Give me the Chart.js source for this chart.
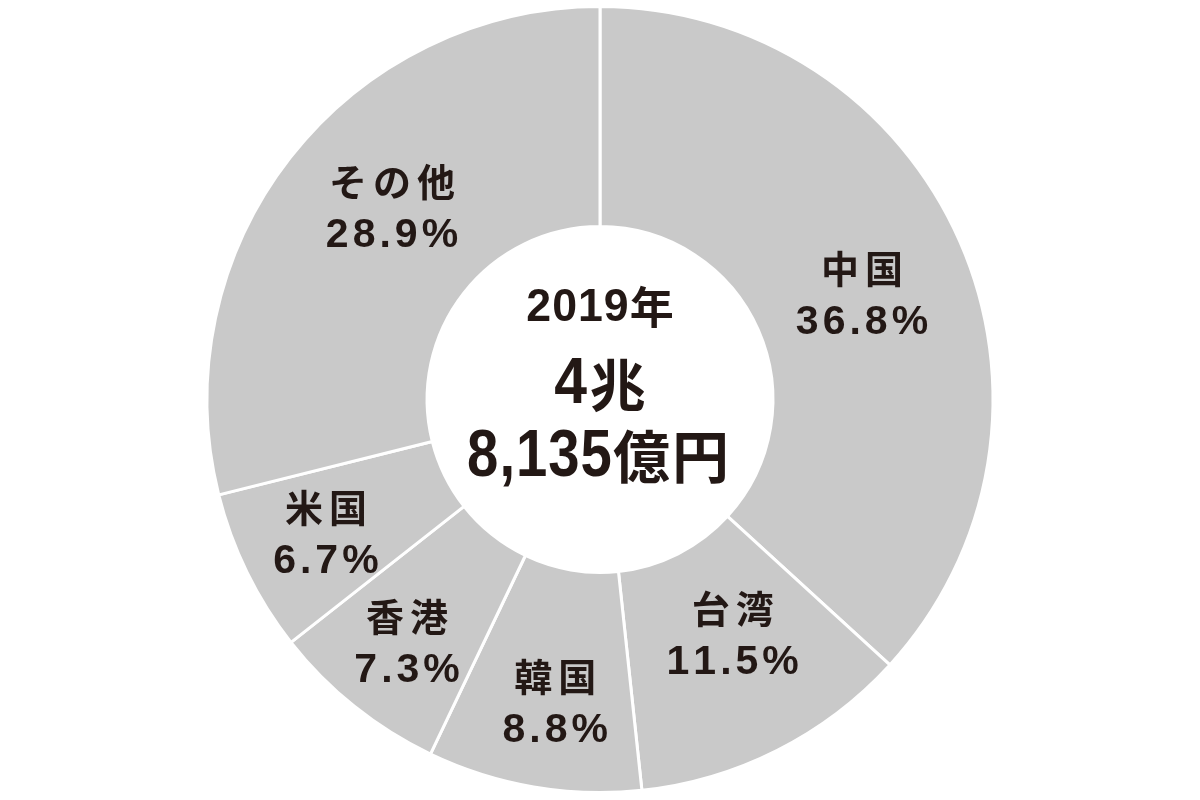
<!DOCTYPE html>
<html>
<head>
<meta charset="utf-8">
<script src="https://cdn.jsdelivr.net/npm/chart.js@4.4.1/dist/chart.umd.min.js"></script>
<style>
  html, body { margin: 0; padding: 0; background: #ffffff; }
  #wrap { width: 1200px; height: 800px; }
</style>
</head>
<body>
<div id="wrap"><canvas id="c" width="1200" height="800"></canvas></div>
<script>
// ---- data ----
const categories = ['中国', '台湾', '韓国', '香港', '米国', 'その他'];
const shares = [36.8, 11.5, 8.8, 7.3, 6.7, 28.9];
const centerYear = '2019年';
const centerTrillion = '4兆';
const centerRest = '8,135億円';

// ---- styles ----
const INK = '#231815';
const GRAY = '#c9c9c9';
const LATIN = "'Liberation Sans', Arial, sans-serif";
const CJK = "'Noto Sans CJK JP', 'Noto Sans CJK SC', sans-serif";

function isCJK(ch) { return /[\u3000-\u9fff\uff00-\uffef]/.test(ch); }

// draw a string, splitting into Latin / CJK runs, centered at (cx, cy)
function drawMixed(ctx, text, cx, cy, latin, cjk) {
  const chars = Array.from(text);
  const items = chars.map(ch => {
    const st = isCJK(ch) ? cjk : latin;
    ctx.font = st.font;
    const sx = st.sx || 1;
    return { ch, st, sx, w: ctx.measureText(ch).width * sx };
  });
  let total = 0;
  items.forEach((it, i) => { total += it.w + (i < items.length - 1 ? it.st.spacing : 0); });
  let x = cx - total / 2;
  ctx.textAlign = 'left';
  ctx.textBaseline = 'middle';
  ctx.fillStyle = INK;
  items.forEach(it => {
    ctx.font = it.st.font;
    ctx.save();
    ctx.translate(x, cy + (it.st.dy || 0));
    ctx.scale(it.sx, 1);
    ctx.fillText(it.ch, 0, 0);
    ctx.restore();
    x += it.w + it.st.spacing;
  });
}

const labelOffsets = [[3, 10], [5, -16], [3, 25], [-16, 23], [-20, 11], [15, -17]];

const labelPlugin = {
  id: 'sliceLabels',
  afterDatasetsDraw(chart) {
    const ctx = chart.ctx;
    const meta = chart.getDatasetMeta(0);
    ctx.save();
    meta.data.forEach((arc, i) => {
      const p = arc.getProps(['x', 'y', 'startAngle', 'endAngle', 'innerRadius', 'outerRadius'], true);
      const mid = (p.startAngle + p.endAngle) / 2;
      const r = (p.innerRadius + p.outerRadius) / 2;
      const off = labelOffsets[i] || [0, 0];
      const lx = p.x + Math.cos(mid) * r + off[0];
      const ly = p.y + Math.sin(mid) * r + off[1];
      const pct = shares[i].toFixed(1) + '%';
      drawMixed(ctx, categories[i], lx, ly - 27,
        { font: 'bold 40px ' + LATIN, spacing: 4 },
        { font: 'bold 38px ' + CJK, spacing: 6 });
      drawMixed(ctx, pct, lx, ly + 27,
        { font: 'bold 41px ' + LATIN, spacing: 4 },
        { font: 'bold 38px ' + CJK, spacing: 4 });
    });
    // center text
    const a = meta.data[0];
    const cx = a.x, cy = a.y;
    drawMixed(ctx, centerYear, cx, cy - 91,
      { font: 'bold 47px ' + LATIN, spacing: 1, sx: 0.95 },
      { font: 'bold 44px ' + CJK, spacing: 2, dy: -1 });
    drawMixed(ctx, centerTrillion, cx, cy - 14,
      { font: 'bold 64px ' + LATIN, spacing: 3, sx: 0.92 },
      { font: 'bold 56px ' + CJK, spacing: 2, dy: -1 });
    drawMixed(ctx, centerRest, cx - 2, cy + 58,
      { font: 'bold 67px ' + LATIN, spacing: 1, sx: 0.84 },
      { font: 'bold 57px ' + CJK, spacing: 2, dy: -1 });
    ctx.restore();
  }
};

new Chart(document.getElementById('c'), {
  type: 'doughnut',
  data: {
    labels: categories,
    datasets: [{
      data: shares,
      backgroundColor: GRAY,
      borderColor: '#ffffff',
      borderWidth: 3,
      hoverOffset: 0,
      offset: 0
    }]
  },
  options: {
    responsive: false,
    animation: false,
    cutout: '44%',
    rotation: 0,
    layout: { padding: { top: 5, bottom: 6, left: 0, right: 0 } },
    plugins: {
      legend: { display: false },
      tooltip: { enabled: false }
    },
    events: []
  },
  plugins: [labelPlugin]
});
</script>
</body>
</html>
